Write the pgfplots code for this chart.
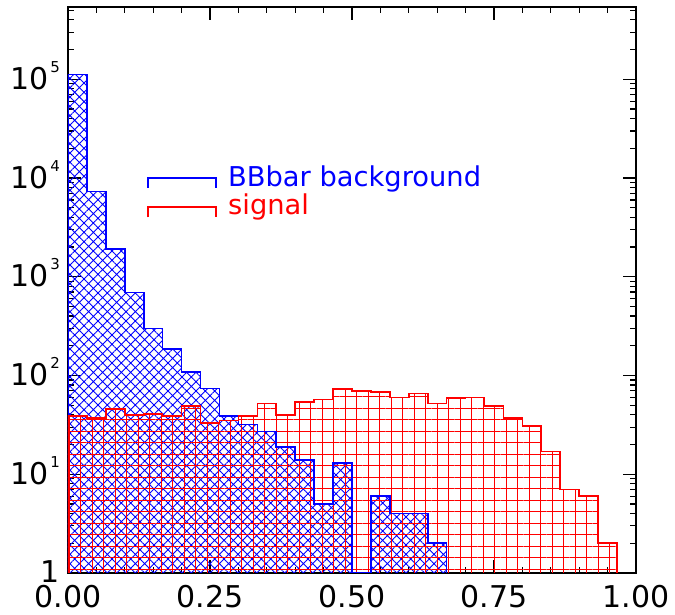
\documentclass[border=0pt]{standalone}
\usepackage{fontspec}
\setmainfont{DejaVu Sans}
\usepackage{pgfplots}
\pgfplotsset{compat=1.18}
\usepackage{pgfplotstable}
\usetikzlibrary{patterns.meta}

% counts per bin (30 bins of width 1/30); an empty bin is written as 1 (= bottom of the log axis)
\pgfplotstableread{
bin n
0  1
0  112000
1  7300
2  1900
3  690
4  300
5  185
6  108
7  74
8  39
9  32
10 27
11 19
12 14
13 5
14 13
15 1
16 6
17 4
18 4
19 2
20 2
20 1
}\bbbar

\pgfplotstableread{
bin n
0  1
0  39
1  37
2  46
3  40
4  41
5  39
6  49
7  33
8  35
9  39
10 52
11 40
12 54
13 57
14 73
15 70
16 68
17 60
18 66
19 52
20 59
21 60
22 49
23 37
24 31
25 17
26 7
27 6
28 2
29 2
29 1
}\signal

\newcommand{\tenpow}[1]{10\hspace{1.5pt}\raisebox{17pt}{\fontsize{15}{15}\selectfont #1}}

\begin{document}
\begin{tikzpicture}
\begin{axis}[
    name=ax,
    scale only axis,
    width=568pt, height=566pt,
    xmin=0, xmax=1,
    ymode=log, ymin=1, ymax=5.4e5,
    xtick={0,0.25,0.5,0.75,1},
    xticklabels={0.00,0.25,0.50,0.75,1.00},
    minor x tick num=4,
    ytick={1,10,100,1000,10000,100000},
    yticklabels={1,\tenpow{1},\tenpow{2},\tenpow{3},\tenpow{4},\tenpow{5}},
    minor ytick={2,3,4,5,6,7,8,9,20,30,40,50,60,70,80,90,200,300,400,500,600,700,800,900,
      2000,3000,4000,5000,6000,7000,8000,9000,20000,30000,40000,50000,60000,70000,80000,90000,
      200000,300000,400000,500000},
    major tick length=13pt,
    minor tick length=6pt,
    tick style={black, line width=1.2pt},
    axis line style={line width=1.8pt},
    ticklabel style={font=\fontsize{30}{32}\selectfont, inner sep=0pt, text depth=0pt},
    xticklabel style={anchor=base, yshift=-35pt},
    yticklabel style={anchor=base east, xshift=-8pt, yshift=-10pt},
]
\addplot[const plot, draw=none, pattern={Hatch[angle=45, distance=6.6pt, line width=0.9pt]}, pattern color=blue]
    table[x expr=\thisrow{bin}/30, y=n] {\bbbar} \closedcycle;
\addplot[const plot, draw=none, pattern={Hatch[angle=0, distance=11.5pt, line width=0.9pt]}, pattern color=red]
    table[x expr=\thisrow{bin}/30, y=n] {\signal} \closedcycle;
\addplot[const plot, blue, line width=1.6pt] table[x expr=\thisrow{bin}/30, y=n] {\bbbar};
\addplot[const plot, red, line width=1.6pt] table[x expr=\thisrow{bin}/30, y=n] {\signal};

\draw[blue, line width=1.6pt] (axis description cs:0.1408,0.6807) -- (axis description cs:0.1408,0.6984)
    -- (axis description cs:0.2606,0.6984) -- (axis description cs:0.2606,0.6807);
\draw[red, line width=1.6pt] (axis description cs:0.1408,0.6284) -- (axis description cs:0.1408,0.6461)
    -- (axis description cs:0.2606,0.6461) -- (axis description cs:0.2606,0.6284);
\node[anchor=base west, inner sep=0pt, text=blue, font=\fontsize{27.3}{29}\selectfont]
    at (axis description cs:0.2817,0.6825) {BBbar background};
\node[anchor=base west, inner sep=0pt, text=red, font=\fontsize{27.3}{29}\selectfont]
    at (axis description cs:0.2817,0.6325) {signal};
\end{axis}
\pgfresetboundingbox
\path ([shift={(-68pt,-42pt)}]ax.south west) rectangle ([shift={(39pt,7pt)}]ax.north east);
\end{tikzpicture}
\end{document}
